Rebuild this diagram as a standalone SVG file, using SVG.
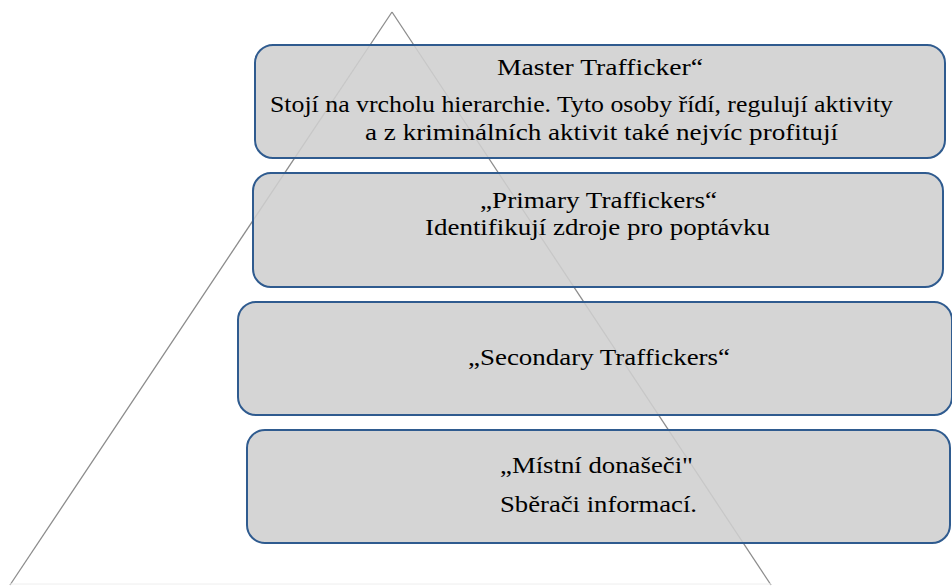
<svg xmlns="http://www.w3.org/2000/svg" width="952" height="588" viewBox="0 0 952 588">
<style>
.box{fill:#cfcfcf;fill-opacity:0.88;stroke:#2f5b8f;stroke-width:2}
.t{font-family:'Liberation Serif','Times New Roman',serif;font-size:23px;fill:#000}
.tri{fill:none;stroke:#8c8c8c;stroke-width:1.3}
</style>
<g id="pyramid">
<path class="tri" d="M392,12 L10,585"/>
<path class="tri" d="M392,12 L771,585"/>
<path d="M10,584 L771,584" stroke="#eeeeee" stroke-width="1" fill="none"/>
</g>
<g id="master">
<rect class="box" x="255" y="45" width="690" height="113" rx="18"/>
<text class="t" x="497" y="75" textLength="206" lengthAdjust="spacingAndGlyphs">Master Trafficker“</text>
<text class="t" x="270" y="112" textLength="623" lengthAdjust="spacingAndGlyphs">Stojí na vrcholu hierarchie. Tyto osoby  řídí, regulují aktivity</text>
<text class="t" x="365" y="140" textLength="473" lengthAdjust="spacingAndGlyphs">a z kriminálních aktivit také nejvíc profitují</text>
</g>
<g id="primary">
<rect class="box" x="253" y="173" width="690" height="114" rx="18"/>
<text class="t" x="480" y="208" textLength="237" lengthAdjust="spacingAndGlyphs">„Primary Traffickers“</text>
<text class="t" x="425" y="235" textLength="345" lengthAdjust="spacingAndGlyphs">Identifikují zdroje pro poptávku</text>
</g>
<g id="secondary">
<rect class="box" x="238" y="302" width="714" height="113" rx="18"/>
<text class="t" x="468" y="365" textLength="262" lengthAdjust="spacingAndGlyphs">„Secondary Traffickers“</text>
</g>
<g id="local">
<rect class="box" x="247" y="430" width="703" height="113" rx="18"/>
<text class="t" x="500" y="473" textLength="193" lengthAdjust="spacingAndGlyphs">„Místní donašeči"</text>
<text class="t" x="500" y="512" textLength="197" lengthAdjust="spacingAndGlyphs">Sběrači informací.</text>
</g>
<g id="connectors"></g>
</svg>
